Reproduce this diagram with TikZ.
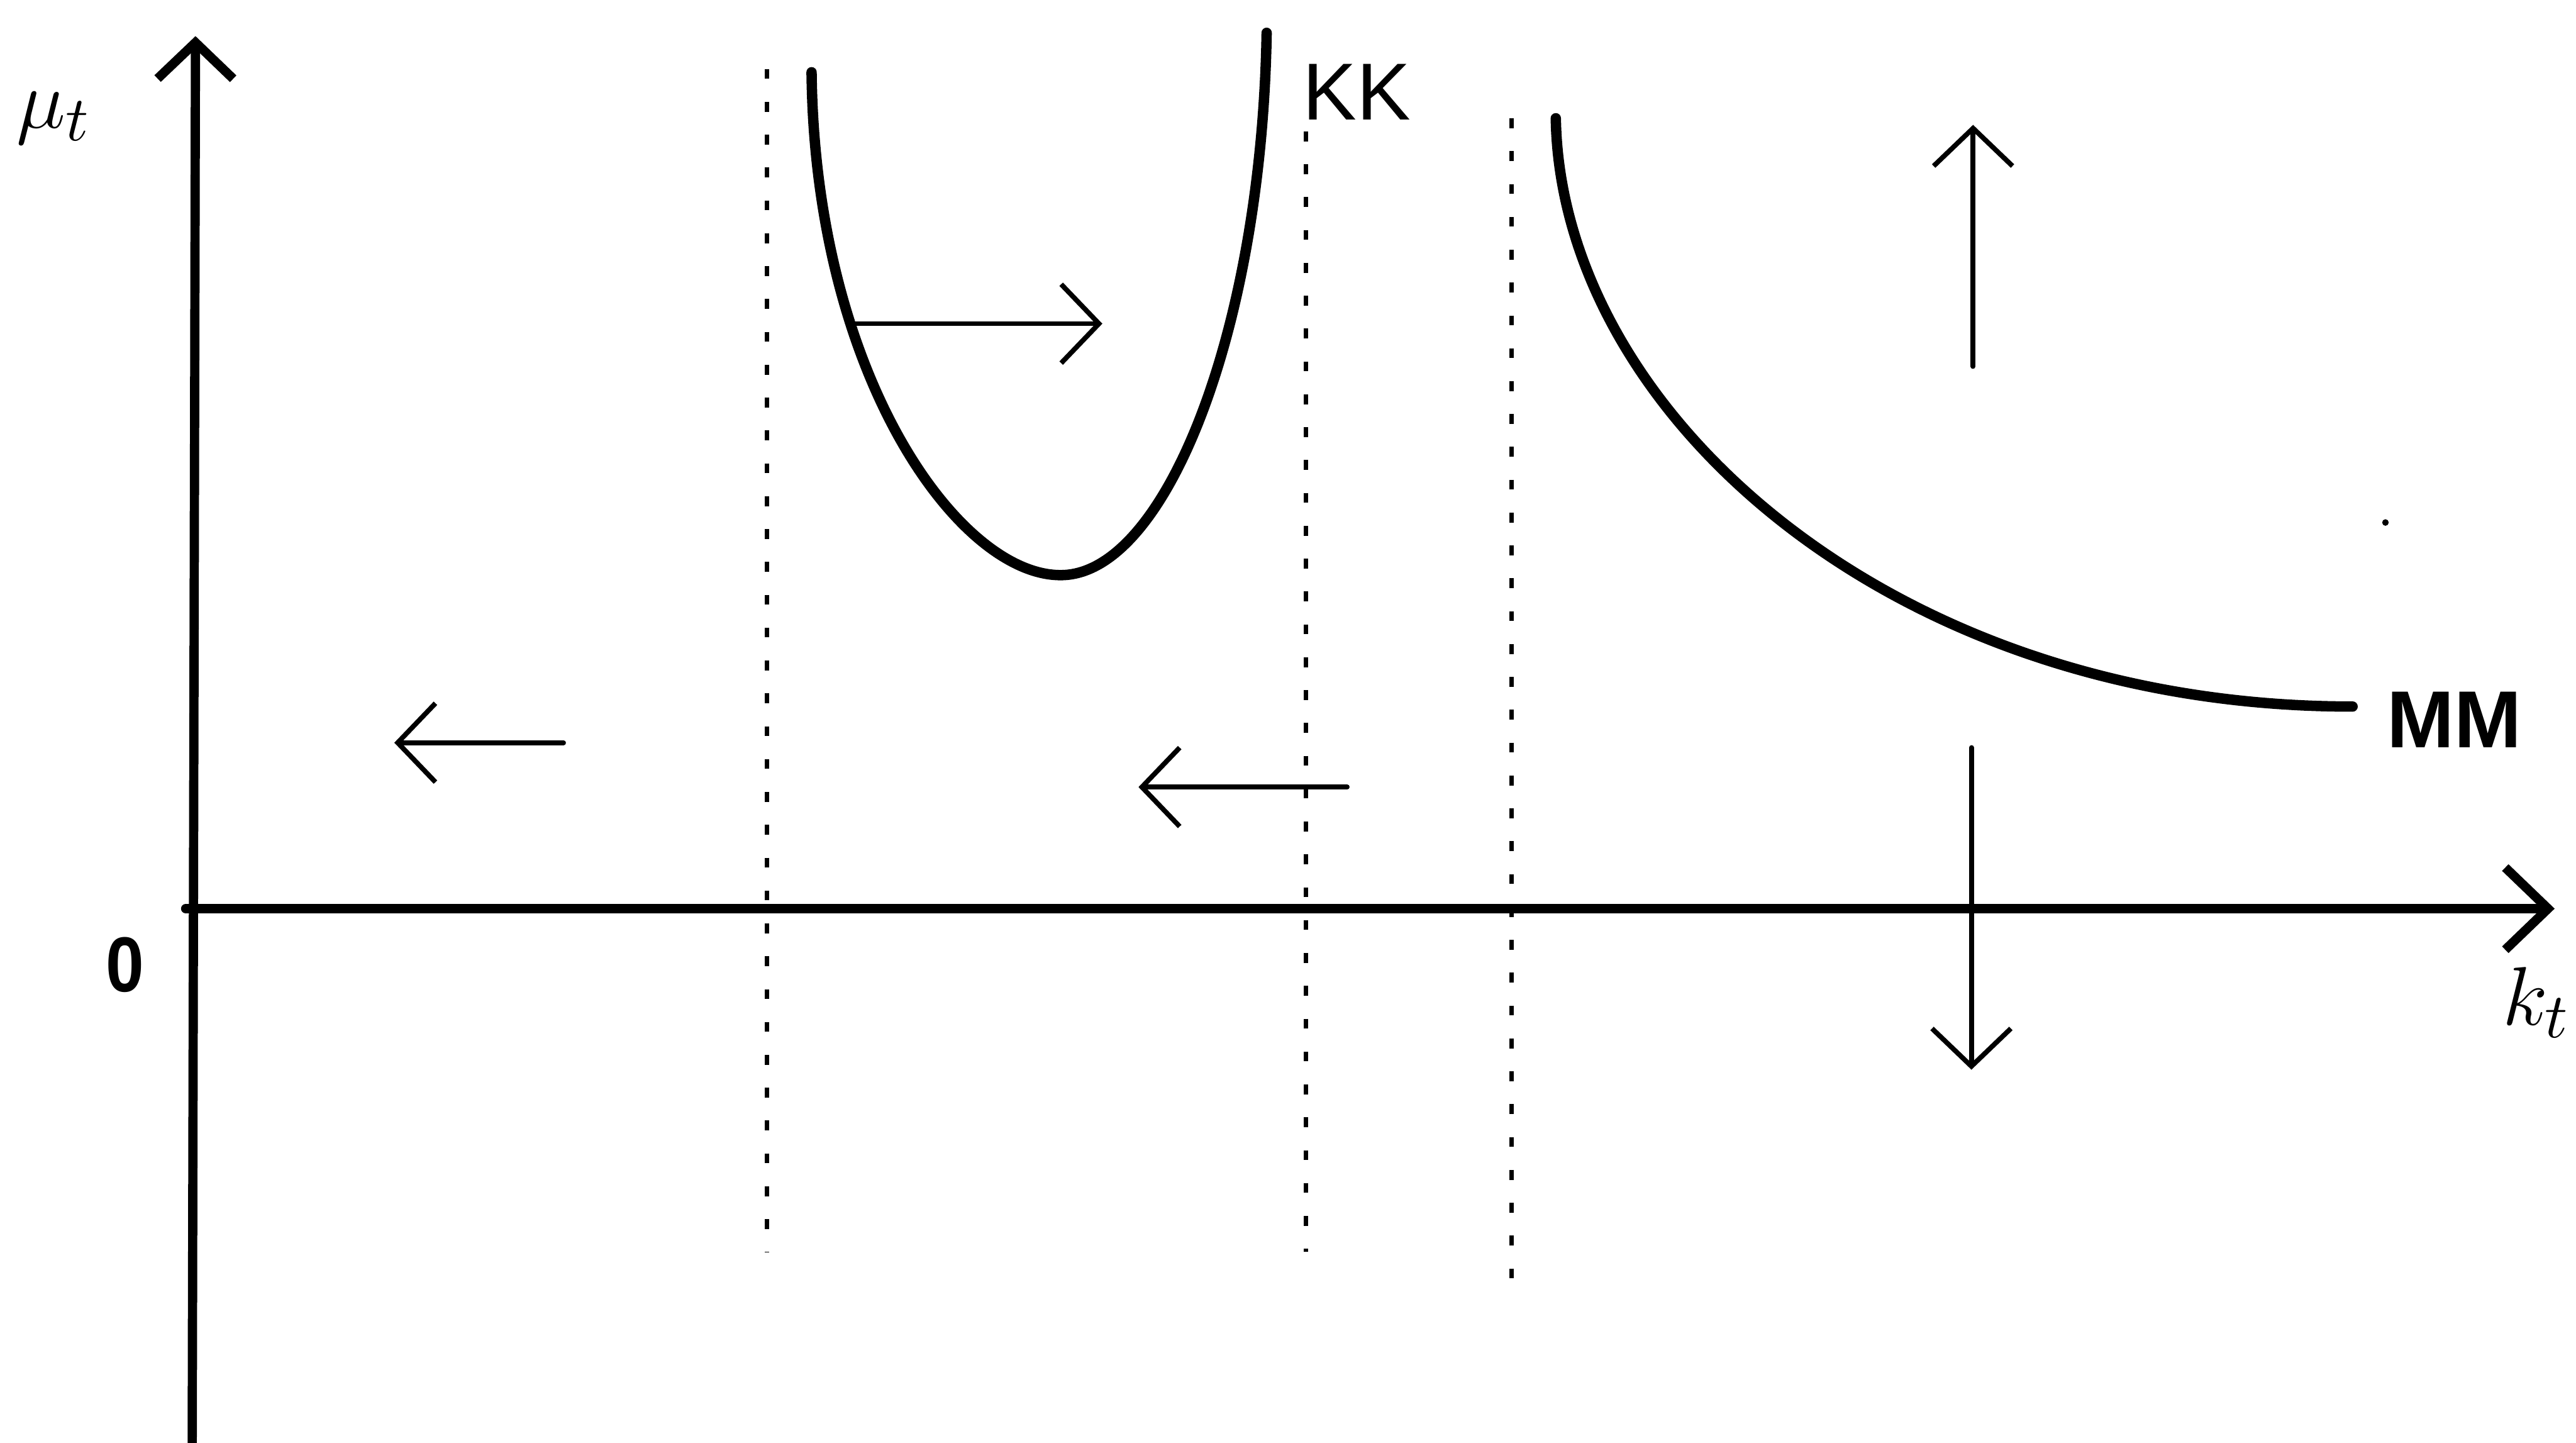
\documentclass[tikz,border=0pt]{standalone}
\usepackage{fontspec}
\usepackage{graphicx}
\usetikzlibrary{arrows.meta}
\newfontfamily\labfont{Liberation Sans}
\begin{document}
\begin{tikzpicture}[x=0.1mm,y=-0.1mm,
  axis/.style={line width=1.6pt, line cap=round},
  curve/.style={line width=1.8pt, line cap=round},
  guide/.style={line width=0.75pt, dash pattern=on 0.6mm off 1.4mm},
  flow/.style={line width=0.85pt, line cap=round, -{Straight Barb[length=2.3mm,width=4.8mm,line width=0.85pt]}},
  lbl/.style={inner sep=0pt, font=\labfont\fontsize{14}{16}\selectfont},
  mlbl/.style={inner sep=0pt, font=\fontsize{15.5}{18}\selectfont}]
\useasboundingbox (0,0) rectangle (1568,878);
% axes
\coordinate (yb) at (117,878);
\coordinate (yt) at (119,22);
\coordinate (xl) at (113,553);
\coordinate (xr) at (1555,553);
\draw[axis, -{Straight Barb[length=2.2mm,width=4.6mm,line width=1.6pt]}] (yb) -- (yt);
\draw[axis, -{Straight Barb[length=2.6mm,width=5.0mm,line width=1.6pt]}] (xl) -- (xr);
% labels
\node[mlbl] (mu) at (33,72) {$\mu_{t}$};
\node[mlbl] (kt) at (1544,610) {$k_{t}$};
\node[lbl, font=\labfont\bfseries\fontsize{13.5}{16}\selectfont] (zero) at (76,587) {\scalebox{0.88}[1]{0}};
\node[lbl] (KK) at (826,56) {KK};
\node[lbl, font=\labfont\bfseries\fontsize{14}{16}\selectfont] (MM) at (1494,438) {MM};
% dotted guides
\coordinate (d1t) at (467,42);  \coordinate (d1b) at (467,762);
\coordinate (d2t) at (795,80);  \coordinate (d2b) at (795,762);
\coordinate (d3t) at (920,72);  \coordinate (d3b) at (920,788);
\draw[guide] (d1t) -- (d1b);
\draw[guide] (d2t) -- (d2b);
\draw[guide] (d3t) -- (d3b);
% KK curve
\coordinate (kk1) at (494,44);
\coordinate (kkmin) at (647,350);
\coordinate (kk2) at (771,20);
\draw[curve] (kk1) .. controls (496,230) and (585,352) .. (kkmin)
                   .. controls (710,348) and (768,200) .. (kk2);
% MM curve
\coordinate (mm1) at (947,72);
\coordinate (mm2) at (1432,430);
\draw[curve] (mm1) .. controls (950,250) and (1150,430) .. (mm2);
% flow arrows
\coordinate (a1s) at (520,197); \coordinate (a1e) at (671,197);
\coordinate (a2s) at (343,452); \coordinate (a2e) at (240,452);
\coordinate (a3s) at (820,479); \coordinate (a3e) at (693,479);
\coordinate (a4s) at (1201,223); \coordinate (a4e) at (1201,76);
\coordinate (a5s) at (1200,455); \coordinate (a5e) at (1200,651);
\draw[flow] (a1s) -- (a1e);
\draw[flow] (a2s) -- (a2e);
\draw[flow] (a3s) -- (a3e);
\draw[flow] (a4s) -- (a4e);
\draw[flow] (a5s) -- (a5e);
% speck
\fill (1452,318) circle (2);
\end{tikzpicture}
\end{document}
